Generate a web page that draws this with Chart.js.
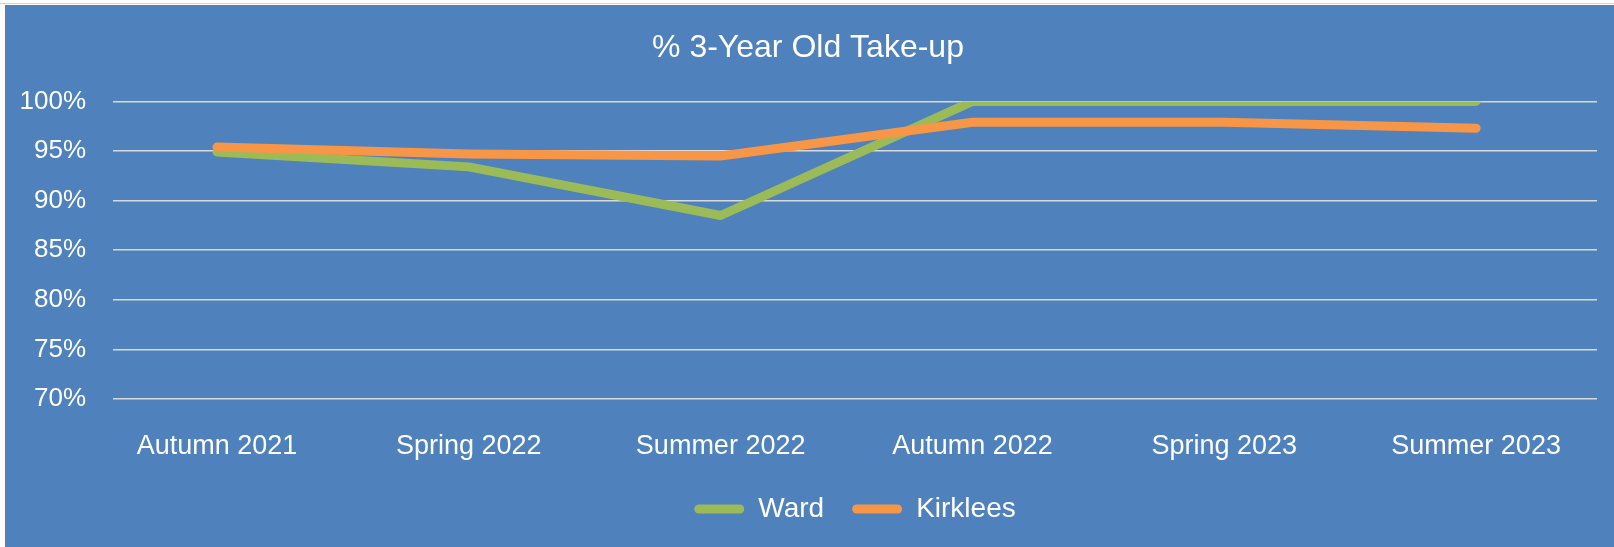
<!DOCTYPE html>
<html>
<head>
<meta charset="utf-8">
<script src="https://cdn.jsdelivr.net/npm/chart.js"></script>
<style>
    body { margin: 0; background: #ffffff; }
    #topline { position: absolute; left: 0; top: 3px; width: 1614px; height: 1px; background: #d4d4d4; }
    #wrap { position: absolute; left: 5px; top: 5px; width: 1609px; height: 542px; background: #4f81bd; }
</style>
</head>
<body>
<div id="topline"></div>
<div id="wrap"><canvas id="takeupChart" width="1609" height="542"></canvas></div>
<script>
const categories = ['Autumn 2021', 'Spring 2022', 'Summer 2022', 'Autumn 2022', 'Spring 2023', 'Summer 2023'];
const ward = [94.9, 93.4, 88.5, 100, 100, 100];
const kirklees = [95.4, 94.7, 94.5, 97.9, 97.9, 97.3];
const yTicks = [70, 75, 80, 85, 90, 95, 100];

const fontFamily = "'Liberation Sans', Arial, sans-serif";

const toPoints = (arr) => arr.map((v, i) => ({ x: i, y: v }));

const ctx = document.getElementById('takeupChart').getContext('2d');
const myChart = new Chart(ctx, {
    type: 'line',
    data: {
        datasets: [{
            label: 'Ward',
            data: toPoints(ward),
            borderColor: '#9bbb59',
            backgroundColor: '#9bbb59',
            borderWidth: 9,
            borderCapStyle: 'round',
            borderJoinStyle: 'round',
            pointRadius: 0,
            tension: 0,
            clip: 0,
            order: 1
        }, {
            label: 'Kirklees',
            data: toPoints(kirklees),
            borderColor: '#f79646',
            backgroundColor: '#f79646',
            borderWidth: 9,
            borderCapStyle: 'round',
            borderJoinStyle: 'round',
            pointRadius: 0,
            tension: 0,
            clip: 0,
            order: 0
        }]
    },
    options: {
        responsive: false,
        animation: false,
        layout: { padding: { left: 14, right: 17, top: 0, bottom: 14 } },
        plugins: {
            title: {
                display: true,
                text: '% 3-Year Old Take-up',
                color: '#ffffff',
                font: { family: fontFamily, size: 32, weight: 'normal' },
                padding: { top: 24, bottom: 34 }
            },
            legend: {
                position: 'bottom',
                fullSize: false,
                labels: {
                    color: '#ffffff',
                    font: { family: fontFamily, size: 28 },
                    boxWidth: 50,
                    boxHeight: 9,
                    useBorderRadius: true,
                    borderRadius: 4.5,
                    padding: 28,
                    sort: (a, b) => a.datasetIndex - b.datasetIndex,
                    generateLabels: (chart) => {
                        const items = Chart.defaults.plugins.legend.labels.generateLabels(chart);
                        items.forEach((it) => { it.lineWidth = 0; });
                        return items;
                    }
                }
            },
            tooltip: { enabled: false }
        },
        scales: {
            x: {
                type: 'linear',
                min: -0.413,
                max: 5.48,
                grid: { display: false, drawTicks: false },
                border: { display: false },
                afterBuildTicks: (scale) => {
                    scale.ticks = categories.map((c, i) => ({ value: i }));
                },
                afterFit: (scale) => { scale.height = 68; },
                ticks: {
                    color: '#ffffff',
                    font: { family: fontFamily, size: 27 },
                    padding: 31,
                    autoSkip: false,
                    maxRotation: 0,
                    callback: (v) => categories[v]
                }
            },
            y: {
                min: 70,
                max: 100,
                grid: { color: '#d9d9d9', lineWidth: 1.5, drawTicks: false },
                border: { display: false },
                afterBuildTicks: (scale) => {
                    scale.ticks = yTicks.map((v) => ({ value: v }));
                },
                afterFit: (scale) => { scale.width = 94; },
                ticks: {
                    color: '#ffffff',
                    font: { family: fontFamily, size: 26 },
                    padding: 27,
                    callback: (v) => v + '%'
                }
            }
        }
    }
});
</script>
</body>
</html>
